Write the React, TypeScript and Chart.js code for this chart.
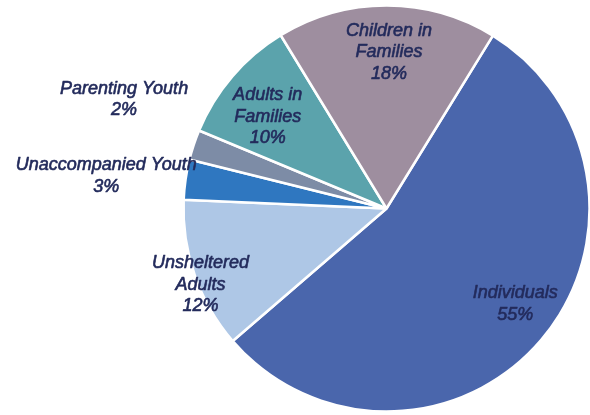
import React, { useEffect, useRef } from "react";
import { Chart, registerables } from "chart.js";

Chart.register(...registerables);

const categories: string[][] = [
  ["Individuals"],
  ["Unsheltered", "Adults"],
  ["Unaccompanied Youth"],
  ["Parenting Youth"],
  ["Adults in", "Families"],
  ["Children in", "Families"],
];
const values: number[] = [54.9, 12.0, 3.2, 2.4, 10.0, 17.5];
const percentLabels: string[] = ["55%", "12%", "3%", "2%", "10%", "18%"];
const colors: string[] = ["#4A66AC", "#AEC7E6", "#2F77C0", "#7D8CA6", "#5BA3AC", "#9E8E9F"];
// label placement relative to each slice: radius factor and angle shift (deg)
const labelRadius: number[] = [0.79, 0.99, 1.39, 1.4, 0.74, 0.77];
const labelShift: number[] = [-3.8, -3.1, -1.6, 4.3, -2.9, 0.8];

const FONT = '"Liberation Sans", Arial, sans-serif';
const TEXT_COLOR = "#232B5C";
const LINE_H = 21.5;

const labelPlugin = {
  id: "sliceLabels",
  afterDatasetsDraw(chart: any) {
    const ctx = chart.ctx;
    const meta = chart.getDatasetMeta(0);
    ctx.save();
    ctx.font = `italic 18px ${FONT}`;
    ctx.fillStyle = TEXT_COLOR;
    ctx.strokeStyle = TEXT_COLOR;
    ctx.lineWidth = 0.6;
    ctx.lineJoin = "round";
    ctx.textAlign = "center";
    ctx.textBaseline = "middle";
    meta.data.forEach((arc: any, i: number) => {
      const p = arc.getProps(["x", "y", "startAngle", "endAngle", "outerRadius"], true);
      const mid = (p.startAngle + p.endAngle) / 2 + (labelShift[i] * Math.PI) / 180;
      const r = p.outerRadius * labelRadius[i];
      const cx = p.x + r * Math.cos(mid);
      const cy = p.y + r * Math.sin(mid);
      const lines = [...categories[i], percentLabels[i]];
      const top = cy - ((lines.length - 1) * LINE_H) / 2;
      lines.forEach((ln, j) => {
        ctx.fillText(ln, cx, top + j * LINE_H);
        ctx.strokeText(ln, cx, top + j * LINE_H);
      });
    });
    ctx.restore();
  },
};

export default function App() {
  const ref = useRef<HTMLCanvasElement | null>(null);
  useEffect(() => {
    document.body.style.margin = "0";
    const chart = new Chart(ref.current as HTMLCanvasElement, {
      type: "pie",
      data: {
        labels: categories.map((c) => c.join(" ")),
        datasets: [
          {
            data: values,
            backgroundColor: colors,
            borderColor: "#FFFFFF",
            borderWidth: 2.5,
          },
        ],
      },
      options: {
        responsive: false,
        animation: false,
        rotation: 31.6,
        radius: 203,
        layout: { padding: { left: 183, right: 0, top: 2, bottom: 0 } },
        plugins: {
          legend: { display: false },
          tooltip: { enabled: false },
        },
      },
      plugins: [labelPlugin],
    });
    return () => chart.destroy();
  }, []);
  return (
    <div style={{ position: "absolute", left: 0, top: 0, width: 590, height: 415, background: "#fff" }}>
      <canvas ref={ref} width={590} height={415} style={{ width: 590, height: 415 }} />
    </div>
  );
}
